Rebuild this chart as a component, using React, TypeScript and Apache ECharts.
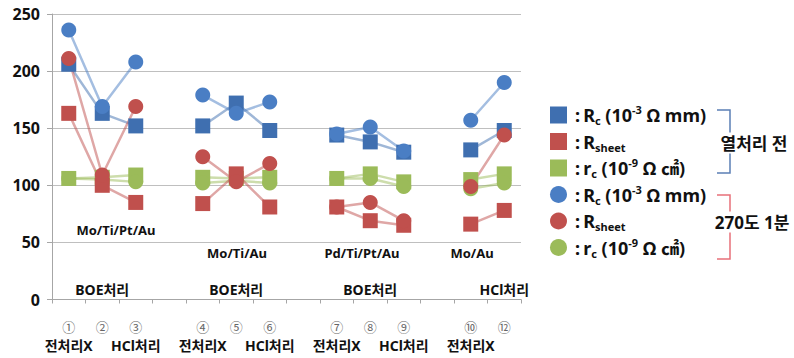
import React, { useEffect, useRef } from "react";
import * as echarts from "echarts";

// categories (14 slots: three points per sample, blank slot between samples)
const categories = ["p1", "p2", "p3", "g1", "p4", "p5", "p6", "g2", "p7", "p8", "p9", "g3", "p10", "p12"];
const circledNums = ["①", "②", "③", "", "④", "⑤", "⑥", "", "⑦", "⑧", "⑨", "", "⑩", "⑫"];
const treatments = ["전처리X", "", "HCl처리", "", "전처리X", "", "HCl처리", "", "전처리X", "", "HCl처리", "", "전처리X", ""];
const etchLabels = ["", "BOE처리", "", "", "", "BOE처리", "", "", "", "BOE처리", "", "", "", "HCl처리"];
const yTicks = { min: 0, max: 250, interval: 50 };

// 열처리 전 (squares)
const rcBefore = [206, 163, 152, null, 152, 172, 148, null, 144, 138, 129, null, 131, 148];
const rsheetBefore = [163, 100, 85, null, 84, 110, 81, null, 81, 69, 65, null, 66, 78];
const rcSmallBefore = [106, 107, 109, null, 107, 106, 107, null, 106, 110, 103, null, 105, 110];
// 270도 1분 (circles)
const rcAfter = [236, 169, 208, null, 179, 163, 173, null, 145, 151, 130, null, 157, 190];
const rsheetAfter = [211, 109, 169, null, 125, 103, 119, null, 81, 85, 69, null, 99, 144];
const rcSmallAfter = [106, 105, 103, null, 102, 104, 102, null, 106, 106, 99, null, 97, 102];

const materials = ["Mo/Ti/Pt/Au", "Mo/Ti/Au", "Pd/Ti/Pt/Au", "Mo/Au"];
const groupNames = ["열처리 전", "270도 1분"];

const BLUE_SQ = "#3F6FB0";
const BLUE_C = "#4A7EC4";
const RED = "#C0504D";
const GREEN = "#9BBB59";
const FONT = "'Noto Sans', 'Noto Sans CJK KR', sans-serif";

const legendRich = {
  t: { fontSize: 18, fontWeight: "bold", color: "#111", lineHeight: 22, verticalAlign: "middle", fontFamily: FONT },
  c: { fontSize: 18, fontWeight: "bold", color: "#111", lineHeight: 22, verticalAlign: "middle", fontFamily: FONT, padding: [0, 0, 0, 3] },
  sub: { fontSize: 11, fontWeight: "bold", color: "#111", lineHeight: 22, verticalAlign: "bottom", fontFamily: FONT },
  sup: { fontSize: 11, fontWeight: "bold", color: "#111", lineHeight: 22, verticalAlign: "top", fontFamily: FONT },
};

const seriesDefs = [
  { name: "rc 전", data: rcSmallBefore, symbol: "rect", color: GREEN, label: "{c|:} {t|r}{sub|c}{t| (10}{sup|-9}{t| Ω ㎠)}" },
  { name: "rc 후", data: rcSmallAfter, symbol: "circle", color: GREEN, label: "{c|:} {t|r}{sub|c}{t| (10}{sup|-9}{t| Ω ㎠)}" },
  { name: "Rc 전", data: rcBefore, symbol: "rect", color: BLUE_SQ, label: "{c|:} {t|R}{sub|c}{t| (10}{sup|-3}{t| Ω mm)}" },
  { name: "Rc 후", data: rcAfter, symbol: "circle", color: BLUE_C, label: "{c|:} {t|R}{sub|c}{t| (10}{sup|-3}{t| Ω mm)}" },
  { name: "Rsheet 전", data: rsheetBefore, symbol: "rect", color: RED, label: "{c|:} {t|R}{sub|sheet}" },
  { name: "Rsheet 후", data: rsheetAfter, symbol: "circle", color: RED, label: "{c|:} {t|R}{sub|sheet}" },
];
const legendOrder = ["Rc 전", "Rsheet 전", "rc 전", "Rc 후", "Rsheet 후", "rc 후"];

export default function App() {
  const ref = useRef<HTMLDivElement>(null);
  useEffect(() => {
    if (!ref.current) return;
    const chart = echarts.init(ref.current, undefined, { renderer: "svg" });
    const labelMap: Record<string, string> = {};
    seriesDefs.forEach((s) => (labelMap[s.name] = s.label));
    const txt = (text: string, x: number, y: number, size: number, extra: any = {}) => ({
      type: "text",
      x,
      y,
      z: 100,
      style: {
        text,
        fontSize: size,
        fontWeight: "bold",
        fontFamily: FONT,
        fill: "#111",
        align: "center",
        verticalAlign: "middle",
        ...extra,
      },
    });
    chart.setOption({
      animation: false,
      textStyle: { fontFamily: FONT },
      grid: { left: 52, right: 273, top: 14, bottom: 58.5, containLabel: false },
      xAxis: [
        {
          type: "category",
          data: categories,
          boundaryGap: true,
          axisLine: { show: true, lineStyle: { color: "#A6A6A6", width: 1 } },
          axisTick: { show: true, length: 4, lineStyle: { color: "#A6A6A6" } },
          splitLine: { show: false },
          axisLabel: {
            interval: 0,
            margin: 18,
            formatter: (_v: string, i: number) =>
              circledNums[i] ? `{n|${circledNums[i]}}` + (treatments[i] ? `\n{t|${treatments[i]}}` : "") : "",
            rich: {
              n: { fontSize: 13, color: "#666", lineHeight: 18, fontFamily: FONT },
              t: { fontSize: 14, fontWeight: "bold", color: "#111", lineHeight: 20, fontFamily: FONT },
            },
          },
        },
        {
          type: "category",
          data: categories,
          position: "bottom",
          boundaryGap: true,
          axisLine: { show: false },
          axisTick: { show: false },
          splitLine: { show: false },
          axisLabel: {
            inside: true,
            interval: 0,
            margin: 3,
            fontSize: 14,
            fontWeight: "bold",
            color: "#111",
            fontFamily: FONT,
            formatter: (_v: string, i: number) => etchLabels[i],
          },
        },
      ],
      yAxis: {
        type: "value",
        ...yTicks,
        axisLine: { show: true, lineStyle: { color: "#A6A6A6" } },
        axisTick: { show: true, length: 5, lineStyle: { color: "#A6A6A6" } },
        splitLine: { show: true, lineStyle: { color: "#BFBFBF", width: 1 } },
        axisLabel: { fontSize: 16, fontWeight: "bold", color: "#111", margin: 12, fontFamily: FONT },
      },
      legend: {
        orient: "vertical",
        left: 550,
        top: 104,
        padding: 0,
        itemWidth: 17,
        itemHeight: 17,
        itemGap: 4.5,
        data: legendOrder.map((n) => ({ name: n, icon: n.endsWith("전") ? "rect" : "circle" })),
        formatter: (n: string) => labelMap[n],
        textStyle: { rich: legendRich, lineHeight: 22 },
        selectedMode: false,
      },
      series: seriesDefs.map((s) => ({
        name: s.name,
        type: "line",
        data: s.data,
        symbol: s.symbol,
        symbolSize: 15,
        connectNulls: false,
        itemStyle: { color: s.color, opacity: 1 },
        lineStyle: { color: s.color, width: 2.5, opacity: 0.5 },
        emphasis: { disabled: true },
      })),
      graphic: [
        txt(materials[0], 116, 230, 13),
        txt(materials[1], 237, 253, 13),
        txt(materials[2], 362, 253, 13),
        txt(materials[3], 472, 253, 13),
        { type: "polyline", shape: { points: [[717, 110], [730, 110], [730, 173], [717, 173]] }, style: { stroke: "#5B7FB5", lineWidth: 1.5, fill: null } },
        { type: "polyline", shape: { points: [[717, 195], [730, 195], [730, 259], [717, 259]] }, style: { stroke: "#E8707A", lineWidth: 1.5, fill: null } },
        txt(groupNames[0], 754, 143, 17, { backgroundColor: "#fff", padding: [2, 0, 2, 0] }),
        txt(groupNames[1], 752, 222, 17, { backgroundColor: "#fff", padding: [2, 0, 2, 0] }),
      ],
    });
    return () => chart.dispose();
  }, []);
  return (
    <div
      ref={ref}
      style={{ position: "fixed", left: 0, top: 0, width: 794, height: 358, background: "#fff" }}
    />
  );
}
